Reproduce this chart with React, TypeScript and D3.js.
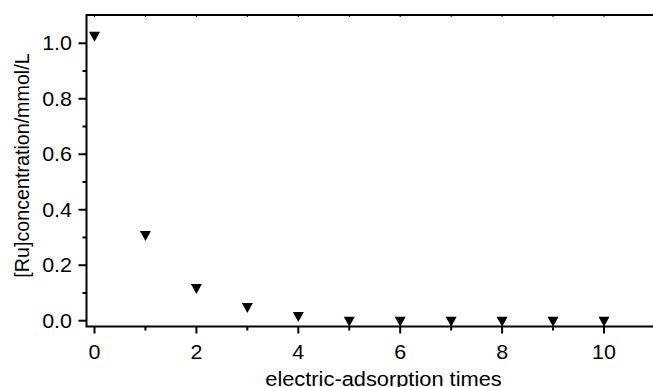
import React from "react";
import * as d3 from "d3";

// electric-adsorption times vs Ru concentration
const times = [0, 1, 2, 3, 4, 5, 6, 7, 8, 9, 10];
const concentration = [1.024, 0.305, 0.114, 0.046, 0.013, -0.004, -0.004, -0.004, -0.004, -0.004, -0.004];
const xMajorTicks = [0, 2, 4, 6, 8, 10];
const xMinorTicks = [1, 3, 5, 7, 9];
const yMajorTicks = [0, 0.2, 0.4, 0.6, 0.8, 1.0];
const yMinorTicks = [0.1, 0.3, 0.5, 0.7, 0.9];

const W = 653;
const H = 387;
const left = 86.5;
const top = 15;
const bottom = 325.5;
const font = "'Liberation Sans', Arial, sans-serif";
// the original export is slightly wider than tall
const stretch = 1.1;

const App = () => {
  const x = d3.scaleLinear().domain([0, 10]).range([94.5, 604]);
  const y = d3.scaleLinear().domain([0, 1]).range([320.7, 43.3]);

  const tri = "M-5.5,-5L5.5,-5L0,5Z";

  return (
    <svg width={W} height={H} style={{ position: "absolute", left: 0, top: 0 }}>
      <rect width={W} height={H} fill="#fff" />
      {/* axis lines */}
      <path d={`M${left},${top}L${W},${top}`} stroke="#000" strokeWidth={2} />
      <path d={`M${left},${top - 1}L${left},${bottom + 1}L${W},${bottom + 1}`} stroke="#000" strokeWidth={2} fill="none" />
      {/* top ticks */}
      {times.map((t) => (
        <line key={"tt" + t} x1={x(t)} x2={x(t)} y1={top} y2={top + 2} stroke="#000" strokeWidth={1} />
      ))}
      {/* x ticks */}
      {xMajorTicks.map((t) => (
        <g key={"xm" + t}>
          <line x1={x(t)} x2={x(t)} y1={bottom + 1} y2={bottom + 8} stroke="#000" strokeWidth={2} />
          <text
            transform={`translate(${x(t)},359) scale(${stretch},1)`}
            textAnchor="middle"
            fontFamily={font}
            fontSize={19.5}
            fill="#000"
          >
            {t}
          </text>
        </g>
      ))}
      {xMinorTicks.map((t) => (
        <line key={"xn" + t} x1={x(t)} x2={x(t)} y1={bottom + 1} y2={bottom + 5} stroke="#000" strokeWidth={2} />
      ))}
      {/* y ticks */}
      {yMajorTicks.map((t) => (
        <g key={"ym" + t}>
          <line x1={left} x2={left - 8} y1={y(t)} y2={y(t)} stroke="#000" strokeWidth={2} />
          <text
            transform={`translate(72,${y(t) + 7}) scale(${stretch},1)`}
            textAnchor="end"
            fontFamily={font}
            fontSize={19.5}
            fill="#000"
          >
            {t.toFixed(1)}
          </text>
        </g>
      ))}
      {yMinorTicks.map((t) => (
        <line key={"yn" + t} x1={left} x2={left - 4} y1={y(t)} y2={y(t)} stroke="#000" strokeWidth={2} />
      ))}
      {/* markers */}
      {times.map((t, i) => (
        <path key={"p" + t} d={tri} transform={`translate(${x(t)},${y(concentration[i])})`} fill="#000" />
      ))}
      {/* titles */}
      <text
        transform={`translate(383.5,385.5) scale(1.12,1)`}
        textAnchor="middle"
        fontFamily={font}
        fontSize={19.5}
        fill="#000"
      >
        electric-adsorption times
      </text>
      <text
        transform={`translate(29,165.5) rotate(-90)`}
        textAnchor="middle"
        fontFamily={font}
        fontSize={19.7}
        fill="#000"
      >
        [Ru]concentration/mmol/L
      </text>
    </svg>
  );
};

export default App;
